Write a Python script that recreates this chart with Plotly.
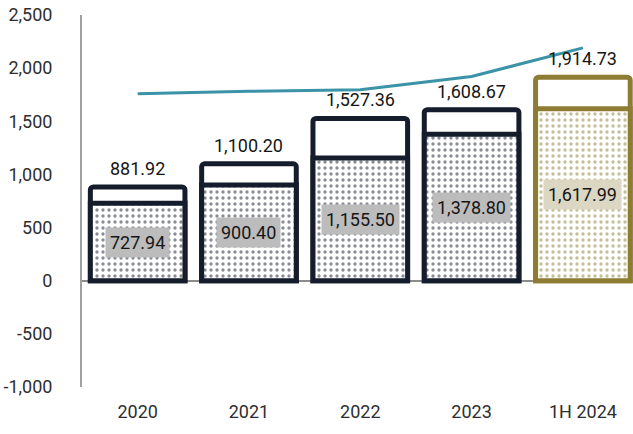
import plotly.graph_objects as go

# Reporting periods and figures
periods = ["2020", "2021", "2022", "2023", "1H 2024"]
totals = [881.92, 1100.20, 1527.36, 1608.67, 1914.73]
core = [727.94, 900.40, 1155.50, 1378.80, 1617.99]
trend = [1758, 1782, 1796, 1921, 2191]

y_ticks = [-1000, -500, 0, 500, 1000, 1500, 2000, 2500]

NAVY = "#151c2b"
GOLD = "#8e7c33"
TEAL = "#3b93a7"
FONT = "Roboto, Liberation Sans, sans-serif"

x = list(range(len(periods)))
edge = [NAVY] * (len(periods) - 1) + [GOLD]
box = ["#bcbcbc"] * (len(periods) - 1) + ["#dcd7c3"]

fig = go.Figure()

# Outer bar: full amount, white fill with heavy outline
fig.add_trace(go.Bar(
    x=x, y=totals, width=0.85,
    marker=dict(color="white", line=dict(color=edge, width=5), cornerradius=3),
    hoverinfo="skip", showlegend=False,
))

# Inner bar: dotted portion
fig.add_trace(go.Bar(
    x=x, y=core, width=0.85,
    marker=dict(
        color="white",
        line=dict(color=edge, width=5),
        cornerradius=3,
        pattern=dict(shape=".", fgcolor=edge, bgcolor="white", size=6, solidity=0.25),
    ),
    hoverinfo="skip", showlegend=False,
))

# Trend line
fig.add_trace(go.Scatter(
    x=x, y=trend, mode="lines",
    line=dict(color=TEAL, width=3),
    hoverinfo="skip", showlegend=False,
))

annotations = []
for i, (t, c) in enumerate(zip(totals, core)):
    annotations.append(dict(
        x=i, y=t, xref="x", yref="y", text=f"{t:,.2f}",
        showarrow=False, yanchor="bottom", yshift=6,
        font=dict(family=FONT, size=18, color="#151515"),
    ))
    annotations.append(dict(
        x=i, y=c / 2, xref="x", yref="y", text=f"{c:,.2f}",
        showarrow=False, yanchor="middle",
        bgcolor=box[i], borderpad=4,
        font=dict(family=FONT, size=18, color="#151515"),
    ))

fig.update_layout(
    width=633, height=434,
    margin=dict(l=82, r=0, t=15, b=47),
    paper_bgcolor="white", plot_bgcolor="white",
    barmode="overlay",
    font=dict(family=FONT, size=18, color="#2e2e2e"),
    annotations=annotations,
    xaxis=dict(
        range=[-0.5, 4.45],
        tickvals=x, ticktext=periods,
        showgrid=False, zeroline=False, showline=False, ticks="",
        ticklabelstandoff=12,
        tickfont=dict(family=FONT, size=18, color="#2e2e2e"),
    ),
    yaxis=dict(
        range=[-1000, 2500],
        tickvals=y_ticks,
        ticktext=[f"{v:,}" for v in y_ticks],
        showgrid=False,
        zeroline=True, zerolinecolor="#8c8c8c", zerolinewidth=2,
        showline=True, linecolor="#a0a0a0", linewidth=2,
        ticks="", ticklabelstandoff=24,
        tickfont=dict(family=FONT, size=18, color="#2e2e2e"),
    ),
)

fig.write_html("out.html")
